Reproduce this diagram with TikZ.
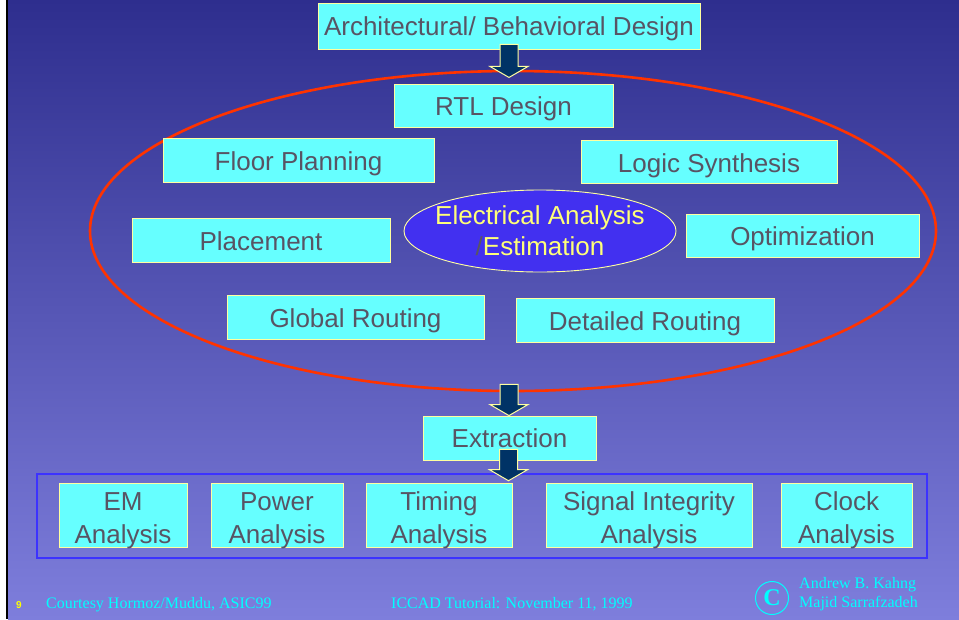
\documentclass[tikz,border=0pt]{standalone}
\usepackage{fontspec}
\setmainfont{Liberation Sans}
\newfontfamily\footserif{Liberation Serif}
\usetikzlibrary{shapes.geometric,calc}
\definecolor{bgtop}{RGB}{46,46,142}
\definecolor{bgbot}{RGB}{126,126,220}
\definecolor{boxfill}{RGB}{102,255,255}
\definecolor{boxline}{RGB}{255,255,160}
\definecolor{boxtext}{RGB}{88,84,100}
\definecolor{arrowfill}{RGB}{0,51,102}
\definecolor{redline}{RGB}{255,51,0}
\definecolor{estfill}{RGB}{66,48,240}
\definecolor{esttext}{RGB}{255,255,120}
\definecolor{bluerect}{RGB}{60,50,255}
\definecolor{footcyan}{RGB}{0,255,255}
\definecolor{numyellow}{RGB}{255,255,0}
\newcommand\twol[2]{\begin{tabular}[b]{@{}c@{}}#1\\#2\end{tabular}}
\tikzset{
  box/.style={draw=boxline, line width=0.9pt, fill=boxfill, text=boxtext, inner sep=0pt,
    font=\fontsize{26}{33}\selectfont, text height=20.6pt, text depth=0pt},
  twobox/.style={box, text height=55.6pt, text depth=0pt},
  blockarrow/.style={draw=boxline, line width=1pt, fill=arrowfill, line join=miter},
  footer/.style={text=footcyan, font=\footserif\fontsize{16}{19}\selectfont, inner sep=0pt}
}
\newcommand\bigarrow[2]{%
  \draw[blockarrow] let \p1=(#1), \p2=(#2) in
    (\x1-9,\y1) -- (\x1+9,\y1) -- (\x1+9,\y2+11) -- (\x1+19,\y2+11) -- (\x1,\y2)
    -- (\x1-19,\y2+11) -- (\x1-9,\y2+11) -- cycle;}
\begin{document}
\begin{tikzpicture}[x=1pt,y=-1pt]
\useasboundingbox (0,0) rectangle (959,619);
% background
\shade[top color=bgtop, bottom color=bgbot] (8,0) rectangle (959,619);
\fill[white] (0,0) rectangle (6,619);
\fill[black] (6,0) rectangle (8,619);

% big red ellipse
\node[ellipse, draw=redline, line width=2.6pt, minimum width=846pt, minimum height=320pt, inner sep=0pt] (cyc) at (513,231) {};

% top box
\node[box, text height=18.6pt, minimum width=382pt, minimum height=46pt] (arch) at (509,26) {Architectural/ Behavioral Design};

% boxes inside ellipse
\node[box, minimum width=219pt, minimum height=43pt] (rtl) at (503.5,105.5) {RTL Design};
\node[box, minimum width=271pt, minimum height=44pt] (floor) at (298.5,160.5) {Floor Planning};
\node[box, minimum width=256pt, minimum height=43pt] (logic) at (709,162) {Logic Synthesis};
\node[box, minimum width=258pt, minimum height=44pt] (place) at (261,240) {Placement};
\node[box, minimum width=233pt, minimum height=43pt] (opt) at (802.5,235.5) {Optimization};
\node[box, minimum width=257pt, minimum height=44pt] (groute) at (355.5,317) {Global Routing};
\node[box, minimum width=258pt, minimum height=44pt] (droute) at (645,320) {Detailed Routing};

% central ellipse
\node[ellipse, draw=boxline, line width=0.9pt, fill=estfill, minimum width=272pt, minimum height=82pt, inner sep=0pt] (est) at (540,231) {};
\node[text=esttext, font=\fontsize{26}{31}\selectfont, inner sep=0pt, text height=49.6pt, text depth=0pt] (esttxt) at (est.center) {\twol{Electrical Analysis}{{\color{boxtext}/}Estimation}};

% extraction
\node[box, text height=18.6pt, minimum width=173pt, minimum height=44pt] (extr) at (509.5,438) {Extraction};

% analysis group
\node[draw=bluerect, line width=2.6pt, minimum width=890pt, minimum height=84pt, inner sep=0pt] (grp) at (482,516) {};
\node[twobox, minimum width=128pt, minimum height=64pt] (em) at (123,515.5) {\twol{EM}{Analysis}};
\node[twobox, minimum width=132pt, minimum height=64pt] (pow) at (277,515.5) {\twol{Power}{Analysis}};
\node[twobox, minimum width=146pt, minimum height=64pt] (tim) at (439,515.5) {\twol{Timing}{Analysis}};
\node[twobox, minimum width=206pt, minimum height=64pt] (sig) at (649,515.5) {\twol{Signal Integrity}{Analysis}};
\node[twobox, minimum width=131pt, minimum height=64pt] (clk) at (846.5,515.5) {\twol{Clock}{Analysis}};

% block arrows
\coordinate (a1top) at ($(arch.south)+(0,-5)$);
\coordinate (a1tip) at ($(arch.south)+(0,28)$);
\bigarrow{a1top}{a1tip}
\coordinate (a2top) at ($(cyc.south)+(-4,-8)$);
\coordinate (a2tip) at ($(extr.north)+(-0.5,0)$);
\coordinate (a2tipx) at (a2top |- a2tip);
\bigarrow{a2top}{a2tipx}
\coordinate (a3top) at ($(extr.south)+(-1,-11)$);
\coordinate (a3tip) at ($(grp.north)+(27,8)$);
\coordinate (a3tipx) at (a3top |- a3tip);
\bigarrow{a3top}{a3tipx}

% footer
\node[text=numyellow, font=\bfseries\fontsize{10}{11}\selectfont, inner sep=0pt] (pg) at (19,605) {9};
\node[footer, anchor=base west] (court) at (46,608) {Courtesy Hormoz/Muddu, ASIC99};
\node[footer, anchor=base west] (iccad) at (391,608) {ICCAD Tutorial: November 11, 1999};
\node[circle, draw=footcyan, line width=1pt, minimum size=33pt, inner sep=0pt, text=footcyan, font=\footserif\bfseries\fontsize{24}{24}\selectfont] (copy) at (772,598) {C};
\node[footer, anchor=base west] (auth1) at (799,588) {Andrew B. Kahng};
\node[footer, anchor=base west] (auth2) at (799,607) {Majid Sarrafzadeh};
\end{tikzpicture}
\end{document}
